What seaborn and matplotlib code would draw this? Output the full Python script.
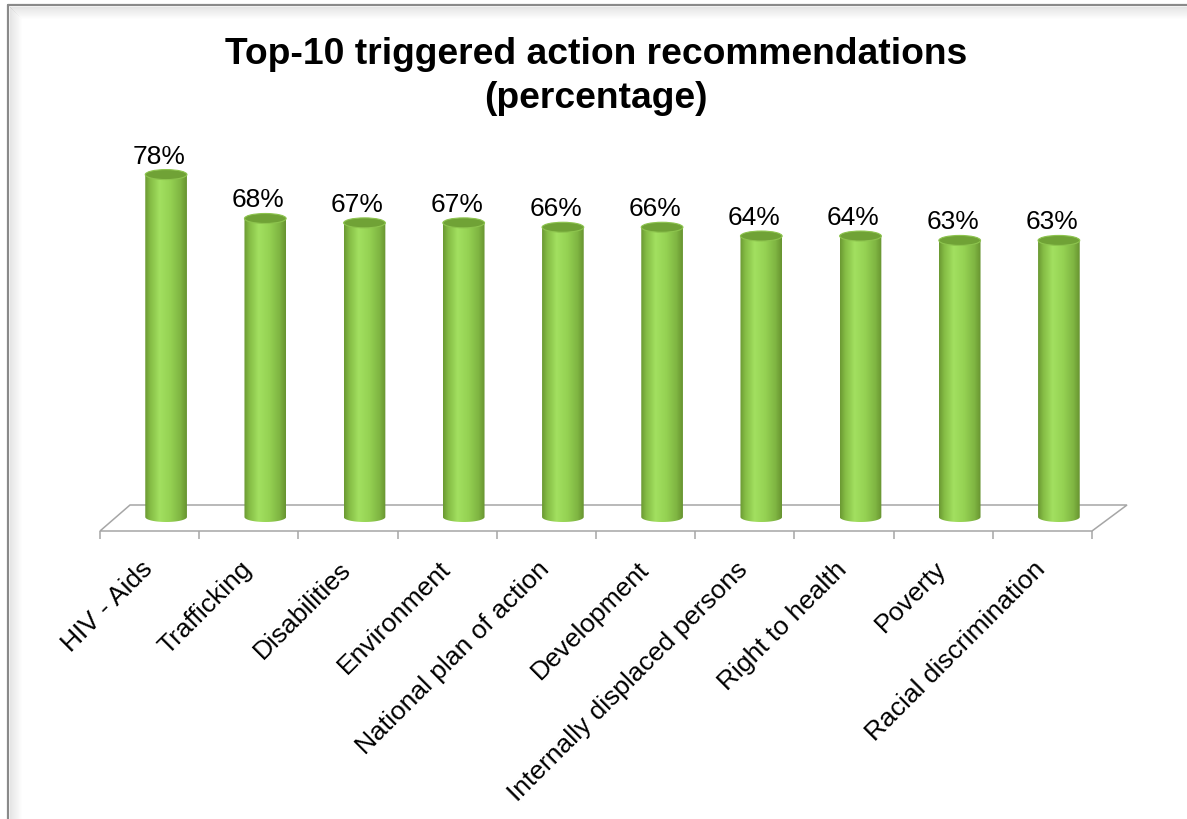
import numpy as np
import matplotlib
matplotlib.use("Agg")
import matplotlib.pyplot as plt
import seaborn as sns
from matplotlib.patches import Ellipse, Polygon
from matplotlib.transforms import offset_copy, ScaledTranslation
from matplotlib.colors import LinearSegmentedColormap
from matplotlib.lines import Line2D

# Data
categories = ["HIV - Aids", "Trafficking", "Disabilities", "Environment",
              "National plan of action", "Development",
              "Internally displaced persons", "Right to health", "Poverty",
              "Racial discrimination"]
values = [78, 68, 67, 67, 66, 66, 64, 64, 63, 63]
value_labels = [f"{v}%" for v in values]

sns.set_style("white")
plt.rcParams["font.family"] = ["Liberation Sans", "DejaVu Sans"]
plt.rcParams["text.color"] = "black"
plt.rcParams["xtick.labelcolor"] = "black"

W, H = 1187, 820
fig = plt.figure(figsize=(W / 100, H / 100), dpi=100)
ax = fig.add_axes([100 / W, (H - 532) / H, 992 / W, 439 / H])

sns.barplot(x=categories, y=values, width=0.42, color="#92d050", ax=ax)
ax.set_xlim(-0.5, 9.5)
ax.set_ylim(0, 100)

px_x = ax.bbox.width / 10
px_y = ax.bbox.height / 100

# cylinder look: bars pushed back into the floor
depth = offset_copy(ax.transData, fig=fig, x=16.5, y=14, units="dots")
eh = 10 / px_y
cmap = LinearSegmentedColormap.from_list("cyl", [
    (0.0, "#6a9832"), (0.12, "#84bb44"), (0.35, "#a2e060"),
    (0.6, "#95d253"), (0.85, "#7fb542"), (1.0, "#679330")])
grad = np.linspace(0, 1, 256).reshape(1, -1)

for p in ax.patches:
    x0, w, h = p.get_x(), p.get_width(), p.get_height()
    cx = x0 + w / 2
    p.set_visible(False)
    t = np.linspace(np.pi, 2 * np.pi, 60)
    verts = [(x0, h)] + list(zip(cx + w / 2 * np.cos(t), eh / 2 * np.sin(t))) + [(x0 + w, h)]
    clip = Polygon(verts, closed=True, transform=depth)
    im = ax.imshow(grad, cmap=cmap, extent=[x0, x0 + w, -eh / 2, h], aspect="auto",
                   transform=depth, zorder=2, origin="lower")
    im.set_clip_path(clip)
    ax.add_patch(Ellipse((cx, h), w, eh, transform=depth, facecolor="#70a236",
                         edgecolor="#8dc44e", lw=0.8, zorder=3))

ax.set_xlim(-0.5, 9.5)
ax.set_ylim(0, 100)

# value labels
lab_tr = offset_copy(ax.transData, fig=fig, x=9.5, y=26, units="dots")
for i, (v, lab) in enumerate(zip(values, value_labels)):
    ax.text(i, v, lab, transform=lab_tr, ha="center", va="baseline", fontsize=19)

# floor
floor = Polygon([(-0.5, 0), (9.5, 0), (9.5 + 35 / px_x, 26 / px_y), (-0.5 + 30 / px_x, 26 / px_y)],
                closed=True, fill=False, edgecolor="#a6a6a6", lw=1.1, clip_on=False, zorder=1)
ax.add_patch(floor)

for s in ax.spines.values():
    s.set_visible(False)
ax.set_yticks([])
ax.set_xlabel("")
ax.set_ylabel("")
ax.set_xticks(range(len(categories)))
ax.set_xticklabels(categories)
ax.set_xticks(np.arange(-0.5, 10, 1), minor=True)
ax.tick_params(axis="x", which="major", length=0, pad=13, labelsize=19)
ax.tick_params(axis="x", which="minor", length=5.8, width=1.1, color="#a6a6a6",
               direction="out", bottom=True)
shift = ScaledTranslation(-9 / 100, -7 / 100, fig.dpi_scale_trans)
for lab in ax.get_xticklabels():
    lab.set_rotation(45)
    lab.set_ha("right")
    lab.set_rotation_mode("anchor")
    lab.set_transform(lab.get_transform() + shift)

# title
fig.text(0.502, 1 - 55 / H, "Top-10 triggered action recommendations", ha="center",
         va="center", fontsize=26.8, fontweight="bold")
fig.text(0.502, 1 - 98 / H, "(percentage)", ha="center", va="center",
         fontsize=26.8, fontweight="bold")

# chart frame with soft inner shadow
for i in range(12):
    a = 0.10 * (1 - i / 12)
    fig.add_artist(Line2D([(10 + i) / W] * 2, [0, 1 - (8 + i) / H], color="k", alpha=a, lw=0.75))
    fig.add_artist(Line2D([(10 + i) / W, 1], [1 - (8 + i) / H] * 2, color="k", alpha=a, lw=0.75))
fig.add_artist(Line2D([8 / W, 8 / W], [0, 1 - 6 / H], color="#8a8a8a", lw=1.6))
fig.add_artist(Line2D([8 / W, 1], [1 - 6 / H, 1 - 6 / H], color="#8a8a8a", lw=1.6))

fig.savefig("out.png", dpi=100)
